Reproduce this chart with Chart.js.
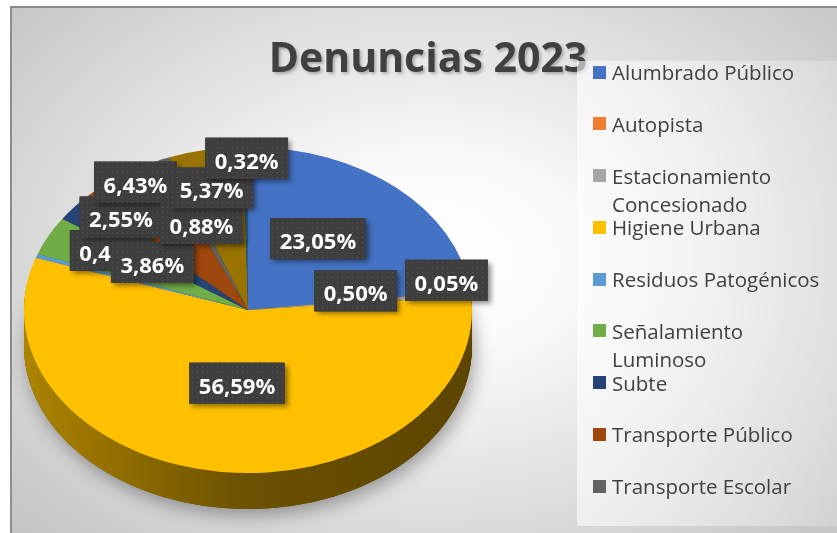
<!DOCTYPE html>
<html>
<head>
<meta charset="utf-8">
<script src="https://cdn.jsdelivr.net/npm/chart.js@4.4.0/dist/chart.umd.min.js"></script>
<style>
  html, body { margin: 0; padding: 0; width: 837px; height: 533px; overflow: hidden; background: #fff; font-family: "Open Sans", sans-serif; }
  #frame {
    position: absolute; left: 10px; top: 6px; width: 840px; height: 540px;
    border-left: 2px solid #8c8c8c; border-top: 2px solid #8c8c8c;
    background: radial-gradient(ellipse farthest-corner at 420px 250px, #ffffff 0%, #fbfbfb 22%, #c2c2c2 100%);
  }
  #chart { position: absolute; left: 0; top: 0; }
  #title {
    position: absolute; left: 228px; top: 36px; width: 400px; text-align: center;
    font-size: 41px; line-height: 41px; font-weight: 700; color: #404040;
    text-shadow: 2px 2px 3px rgba(0, 0, 0, 0.25);
  }
  #legend {
    position: absolute; left: 577px; top: 61px; width: 270px; height: 465px;
    background: linear-gradient(to right, rgba(255, 255, 255, 0.6), rgba(255, 255, 255, 0.2));
  }
  .item { position: absolute; left: 0; font-size: 20.5px; line-height: 28px; color: #404040; }
  .item .sw { position: absolute; left: 16px; top: 7.5px; width: 13px; height: 13px; }
  .item .tx { position: absolute; left: 35px; top: 0; width: 224px; }
</style>
</head>
<body>
<div id="frame"></div>
<canvas id="chart" width="837" height="533"></canvas>
<div id="title">Denuncias 2023</div>
<div id="legend"></div>
<script>
// the legend in the picture only shows the first nine categories
const categories = [
  'Alumbrado Público', 'Autopista', 'Estacionamiento Concesionado', 'Higiene Urbana',
  'Residuos Patogénicos', 'Señalamiento Luminoso', 'Subte', 'Transporte Público',
  'Transporte Escolar', 'Categoría 10', 'Categoría 11'
];
const shares = [23.05, 0.05, 0.50, 56.59, 0.40, 3.86, 2.55, 6.43, 0.88, 5.37, 0.32];
const colors = [
  '#4472C4', '#ED7D31', '#A5A5A5', '#FFC000', '#5B9BD5', '#70AD47',
  '#264478', '#9E480E', '#636363', '#997300', '#255E91'
];
const legendCount = 9;

// fake 3d: squash the pie vertically and extrude it downward
const TILT = 0.728;
const PIE_CY = 310;
const DEPTH = 36;
const LABEL_F = 0.6;
// hand nudges of the data labels, like the moved labels in the original
const labelNudge = [[-19, 2], [65, -18], [-26, -9], [5, -24], [-10, -27], [24, -3],
  [-22, -32], [-35, -48], [4, 4], [-11, -26], [0, -54]];

function tilt(ctx, cy, d) {
  ctx.translate(0, PIE_CY + d);
  ctx.scale(1, TILT);
  ctx.translate(0, -cy);
}

function shade(hex, k) {
  const n = parseInt(hex.slice(1), 16);
  const r = Math.round(((n >> 16) & 255) * k);
  const g = Math.round(((n >> 8) & 255) * k);
  const b = Math.round((n & 255) * k);
  return `rgb(${r},${g},${b})`;
}

function wedge(ctx, arc) {
  ctx.beginPath();
  ctx.moveTo(arc.x, arc.y);
  ctx.arc(arc.x, arc.y, arc.outerRadius, arc.startAngle, arc.endAngle);
  ctx.closePath();
}

const dots = document.createElement('canvas');
dots.width = 5; dots.height = 5;
const dctx = dots.getContext('2d');
dctx.fillStyle = '#3e3e3e';
dctx.fillRect(0, 0, 5, 5);
dctx.fillStyle = '#565656';
dctx.fillRect(2, 2, 1, 1);

const pie3d = {
  id: 'pie3d',
  beforeDatasetsDraw(chart) {
    const ctx = chart.ctx;
    const arcs = chart.getDatasetMeta(0).data;
    const { x, y, outerRadius } = arcs[0];
    const fills = arcs.map(a => {
      const g = ctx.createLinearGradient(x - outerRadius, 0, x + outerRadius, 0);
      const c = a.options.backgroundColor;
      g.addColorStop(0, shade(c, 0.68));
      g.addColorStop(0.5, shade(c, 0.42));
      g.addColorStop(1, shade(c, 0.36));
      return g;
    });

    // soft shadow below the pie
    ctx.save();
    tilt(ctx, y, DEPTH);
    ctx.shadowColor = 'rgba(0,0,0,0.35)';
    ctx.shadowBlur = 18;
    ctx.shadowOffsetX = 3;
    ctx.shadowOffsetY = 6;
    ctx.fillStyle = '#5e4600';
    ctx.beginPath();
    ctx.arc(x, y, outerRadius, 0, Math.PI * 2);
    ctx.fill();
    ctx.restore();

    for (let d = DEPTH; d >= 1; d--) {
      ctx.save();
      tilt(ctx, y, d);
      arcs.forEach((a, i) => {
        wedge(ctx, a);
        ctx.fillStyle = fills[i];
        ctx.fill();
      });
      ctx.restore();
    }

    ctx.save();
    tilt(ctx, y, 0);
  },
  afterDatasetsDraw(chart) {
    const ctx = chart.ctx;
    ctx.restore();

    const arcs = chart.getDatasetMeta(0).data;
    const pattern = ctx.createPattern(dots, 'repeat');
    ctx.font = 'bold 22px "Open Sans"';
    arcs.forEach((a, i) => {
      const mid = (a.startAngle + a.endAngle) / 2;
      const px = a.x + LABEL_F * a.outerRadius * Math.cos(mid) + labelNudge[i][0];
      const py = PIE_CY + TILT * LABEL_F * a.outerRadius * Math.sin(mid) + labelNudge[i][1];
      const text = shares[i].toFixed(2).replace('.', ',') + '%';
      const w = ctx.measureText(text).width + 19;
      const h = 41;

      ctx.save();
      ctx.shadowColor = 'rgba(0,0,0,0.45)';
      ctx.shadowBlur = 5;
      ctx.shadowOffsetX = 3;
      ctx.shadowOffsetY = 3;
      ctx.fillStyle = '#3e3e3e';
      ctx.fillRect(px - w / 2, py - h / 2, w, h);
      ctx.restore();
      ctx.fillStyle = pattern;
      ctx.fillRect(px - w / 2, py - h / 2, w, h);

      ctx.fillStyle = '#ffffff';
      ctx.textAlign = 'center';
      ctx.textBaseline = 'alphabetic';
      ctx.fillText(text, px, py + 10.5);
    });
  }
};

const chart = new Chart(document.getElementById('chart').getContext('2d'), {
  type: 'pie',
  data: {
    labels: categories,
    datasets: [{
      data: shares,
      backgroundColor: colors,
      borderWidth: 0,
      clip: false
    }]
  },
  options: {
    responsive: false,
    animation: false,
    events: [],
    layout: { padding: { left: 24, right: 365, top: 40, bottom: 45 } },
    plugins: {
      legend: { display: false },
      tooltip: { enabled: false }
    }
  },
  plugins: [pie3d]
});

const legend = document.getElementById('legend');
categories.slice(0, legendCount).forEach((name, i) => {
  const item = document.createElement('div');
  item.className = 'item';
  item.style.top = (-3 + 51.75 * i) + 'px';
  item.innerHTML = `<div class="sw" style="background:${colors[i]}"></div><div class="tx">${name}</div>`;
  legend.appendChild(item);
});
</script>
</body>
</html>
